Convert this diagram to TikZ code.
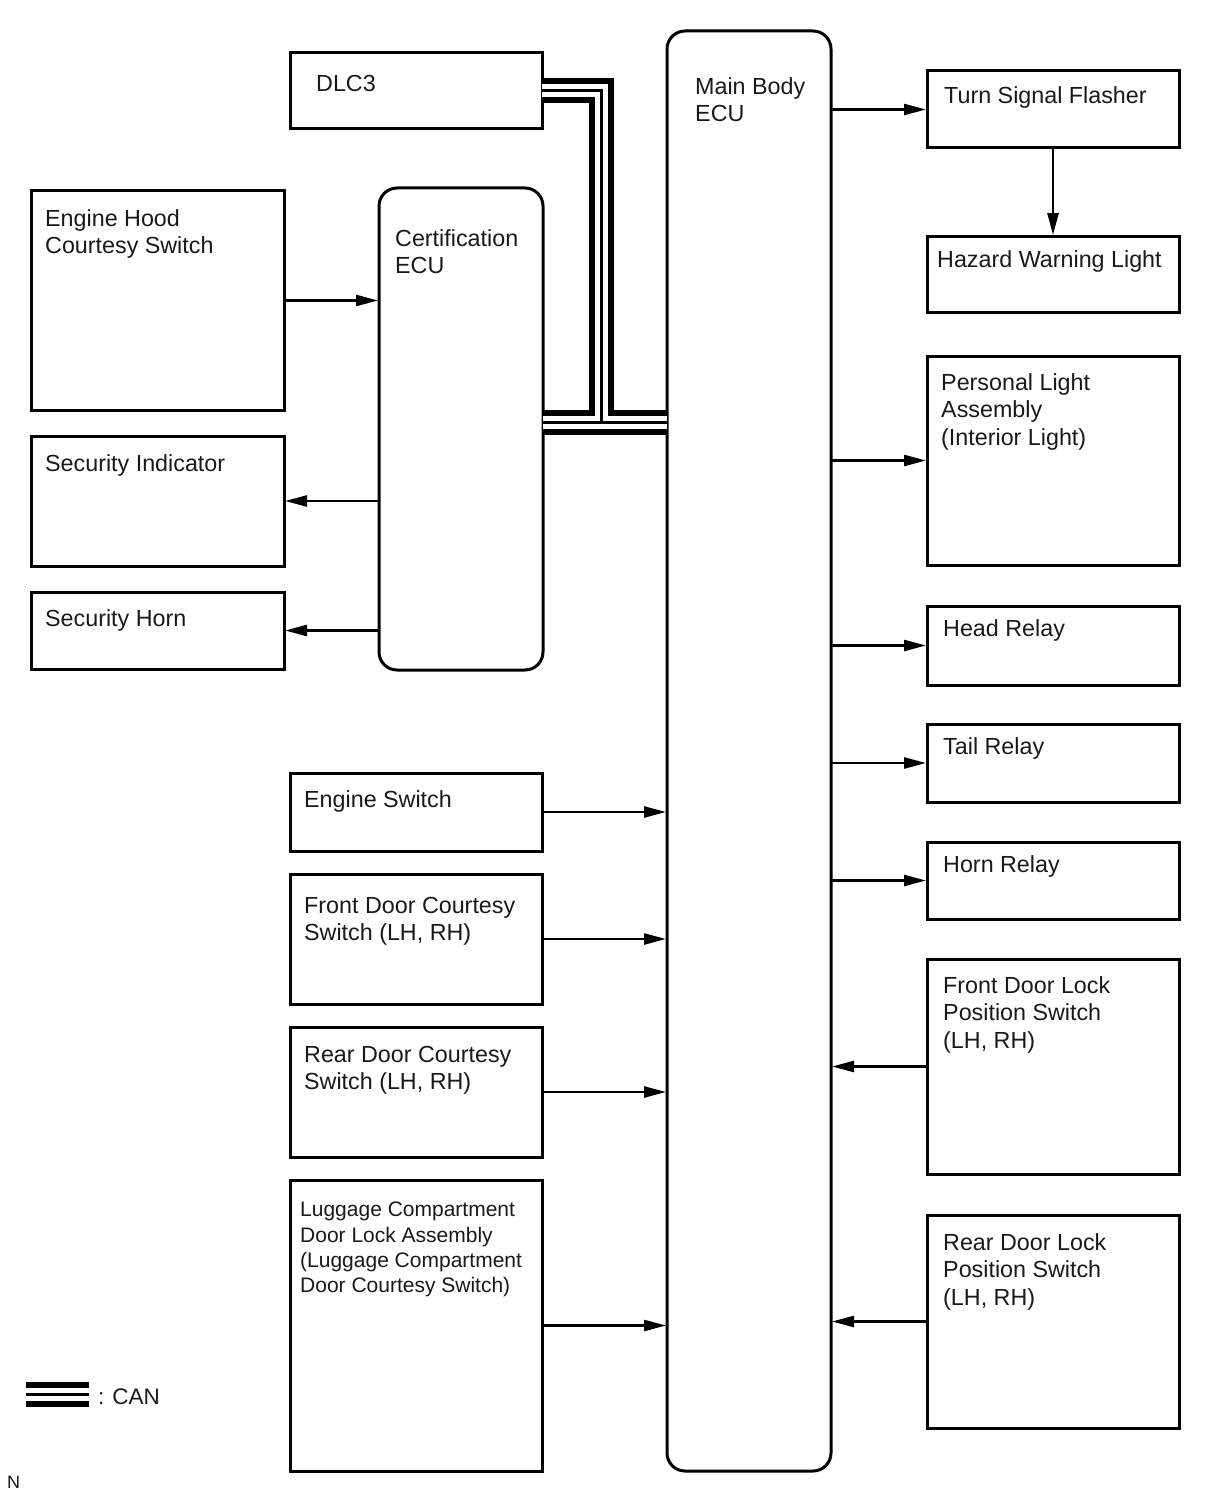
\documentclass[tikz,border=0pt]{standalone}
\usepackage{fontspec}
\setmainfont{Liberation Sans}
\usetikzlibrary{arrows.meta}
\begin{document}
\begin{tikzpicture}[x=1pt,y=-1pt,
  box/.style={draw, line width=3pt, outer sep=0pt, inner sep=0pt, anchor=north west, rectangle},
  ecu/.style={box, rounded corners=18pt},
  lbl/.style={font=\fontsize{23.3}{27.5}\selectfont, align=left, inner sep=0pt, anchor=north west, text=black!90},
  lblsmall/.style={lbl, font=\fontsize{21}{25.3}\selectfont},
  arr/.style={line width=2.5pt, shorten >=1pt, -{Triangle[length=22pt,width=11pt]}},
  canline/.style={line cap=butt, line join=miter}
]
\useasboundingbox (0,0) rectangle (1210,1498);

% ECUs
\node[ecu, minimum width=164pt, minimum height=1440pt,
  label={[lbl, xshift=28pt, yshift=-46pt]north west:{Main Body\\ECU}}] (main) at (667,31) {};
\node[ecu, minimum width=164pt, minimum height=482pt,
  label={[lbl, xshift=16pt, yshift=-41pt]north west:{Certification\\ECU}}] (cert) at (379,188) {};

% left column
\node[box, minimum width=252pt, minimum height=76pt,
  label={[lbl, xshift=26pt, yshift=-22pt]north west:{DLC3}}] (dlc3) at (290,53) {};
\node[box, minimum width=253pt, minimum height=219pt,
  label={[lbl, xshift=14pt, yshift=-18pt]north west:{Engine Hood\\Courtesy Switch}}] (hood) at (31,191) {};
\node[box, minimum width=253pt, minimum height=130pt,
  label={[lbl, xshift=14pt, yshift=-18pt]north west:{Security Indicator}}] (secind) at (31,436) {};
\node[box, minimum width=253pt, minimum height=77pt,
  label={[lbl, xshift=14pt, yshift=-17pt]north west:{Security Horn}}] (sechorn) at (31,592) {};
\node[box, minimum width=252pt, minimum height=78pt,
  label={[lbl, xshift=14pt, yshift=-17pt]north west:{Engine Switch}}] (engsw) at (290,773) {};
\node[box, minimum width=252pt, minimum height=130pt,
  label={[lbl, xshift=14pt, yshift=-23pt]north west:{Front Door Courtesy\\Switch (LH, RH)}}] (fdc) at (290,874) {};
\node[box, minimum width=252pt, minimum height=130pt,
  label={[lbl, xshift=14pt, yshift=-19pt]north west:{Rear Door Courtesy\\Switch (LH, RH)}}] (rdc) at (290,1027) {};
\node[box, minimum width=252pt, minimum height=291pt,
  label={[lblsmall, xshift=10pt, yshift=-22pt]north west:{Luggage Compartment\\Door Lock Assembly\\(Luggage Compartment\\Door Courtesy Switch)}}] (lug) at (290,1180) {};

% right column
\node[box, minimum width=252pt, minimum height=77pt,
  label={[lbl, xshift=17pt, yshift=-15pt]north west:{Turn Signal Flasher}}] (turn) at (927,71) {};
\node[box, minimum width=252pt, minimum height=76pt,
  label={[lbl, xshift=10pt, yshift=-14pt]north west:{Hazard Warning Light}}] (haz) at (927,236) {};
\node[box, minimum width=252pt, minimum height=209pt,
  label={[lbl, xshift=14pt, yshift=-17pt]north west:{Personal Light\\Assembly\\(Interior Light)}}] (pers) at (927,356) {};
\node[box, minimum width=252pt, minimum height=79pt,
  label={[lbl, xshift=16pt, yshift=-13pt]north west:{Head Relay}}] (head) at (927,606) {};
\node[box, minimum width=252pt, minimum height=78pt,
  label={[lbl, xshift=16pt, yshift=-13pt]north west:{Tail Relay}}] (tail) at (927,724) {};
\node[box, minimum width=252pt, minimum height=77pt,
  label={[lbl, xshift=16pt, yshift=-13pt]north west:{Horn Relay}}] (horn) at (927,842) {};
\node[box, minimum width=252pt, minimum height=215pt,
  label={[lbl, xshift=16pt, yshift=-17pt]north west:{Front Door Lock\\Position Switch\\(LH, RH)}}] (fdl) at (927,959) {};
\node[box, minimum width=252pt, minimum height=213pt,
  label={[lbl, xshift=16pt, yshift=-18pt]north west:{Rear Door Lock\\Position Switch\\(LH, RH)}}] (rdl) at (927,1215) {};

% CAN bus
\coordinate (j) at (601.5,422.5);
\coordinate (leg1) at (26,1394.5);
\coordinate (leg2) at (89,1394.5);
\foreach \w/\c in {25/black,13/white,3/black} {
  \draw[canline, line width=\w pt, draw=\c] (dlc3.east) -| (j);
  \draw[canline, line width=\w pt, draw=\c] (cert.east |- j) -- (main.west |- j);
  \draw[canline, line width=\w pt, draw=\c] (leg1) -- (leg2);
}

% arrows from main body ECU
\draw[arr] (main.east |- turn.west) -- (turn.west);
\draw[arr] (turn.south) -- (haz.north);
\draw[arr] (main.east |- pers.west) -- (pers.west);
\draw[arr] (main.east |- head.west) -- (head.west);
\draw[arr] (main.east |- tail.west) -- (tail.west);
\draw[arr] (main.east |- horn.west) -- (horn.west);
\draw[arr] (fdl.west) -- (main.east |- fdl.west);
\draw[arr] (rdl.west) -- (main.east |- rdl.west);

% inputs to main body ECU
\draw[arr] (engsw.east) -- (main.west |- engsw.east);
\draw[arr] (fdc.east) -- (main.west |- fdc.east);
\draw[arr] (rdc.east) -- (main.west |- rdc.east);
\draw[arr] (lug.east) -- (main.west |- lug.east);

% certification ECU
\draw[arr] (hood.east) -- (cert.west |- hood.east);
\draw[arr] (cert.west |- secind.east) -- (secind.east);
\draw[arr] (cert.west |- sechorn.east) -- (sechorn.east);

% legend
\node[lbl, font=\fontsize{22.5}{26}\selectfont, anchor=west] (canlbl) at (98,1397) {:\hspace{8pt}CAN};
\node[lbl, font=\fontsize{18}{22}\selectfont] (nmark) at (7,1476) {N};
\end{tikzpicture}
\end{document}
